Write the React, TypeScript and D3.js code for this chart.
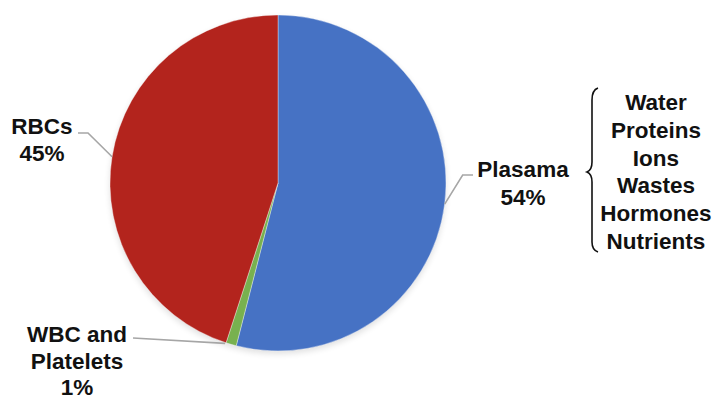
import React from "react";
import * as d3 from "d3";

// Blood composition shares
const categories = ["Plasama", "WBC and Platelets", "RBCs"];
const values = [54, 1, 45];
const colors = ["#4672C4", "#78B14F", "#B3241D"];
const plasmaParts = ["Water", "Proteins", "Ions", "Wastes", "Hormones", "Nutrients"];

const W = 717;
const H = 397;
const cx = 278;
const cy = 183;
const R = 168;
const FONT = "'Liberation Sans', Arial, Helvetica, sans-serif";

export default function App() {
  const pie = d3.pie<number>().sort(null).value((d) => d)(values);
  const arc = d3.arc<d3.PieArcDatum<number>>().innerRadius(0).outerRadius(R);
  const edge = (a: d3.PieArcDatum<number>) => {
    const m = (a.startAngle + a.endAngle) / 2;
    return [cx + R * Math.sin(m), cy - R * Math.cos(m)];
  };

  const [pX, pY] = edge(pie[0]);
  const [wX, wY] = edge(pie[1]);
  const [rX, rY] = edge(pie[2]);

  const label = (lines: string[], x: number, y0: number, step: number, size: number) =>
    lines.map((t, i) => (
      <text
        key={t}
        x={x}
        y={y0 + i * step}
        textAnchor="middle"
        fontFamily={FONT}
        fontWeight="bold"
        fontSize={size}
        fill="#111"
      >
        {t}
      </text>
    ));

  return (
    <svg width={W} height={H} style={{ position: "absolute", left: 0, top: 0 }}>
      <defs>
        <filter id="shadow" x="-10%" y="-10%" width="120%" height="120%">
          <feGaussianBlur stdDeviation="3" />
        </filter>
      </defs>
      <rect width={W} height={H} fill="#fff" />
      <circle cx={cx} cy={cy + 3} r={R} fill="#000" opacity={0.12} filter="url(#shadow)" />
      <g transform={`translate(${cx},${cy})`}>
        {pie.map((a, i) => (
          <path key={categories[i]} d={arc(a) || ""} fill={colors[i]} stroke="#fff" strokeWidth={0.6} strokeOpacity={0.6} />
        ))}
      </g>

      {/* leader lines */}
      <g fill="none" stroke="#A6A6A6" strokeWidth={1.6}>
        <polyline points={`${pX},${pY} ${pX + 18},${175} ${473},${175}`} />
        <polyline points={`${rX},${rY} ${88},${133} ${78},${133}`} />
        <polyline points={`${wX - 6},${wY - 1} ${133},${338}`} />
      </g>

      {label(["Plasama", "54%"], 523, 177, 28, 22.5)}
      {label(["RBCs", "45%"], 42, 134, 27, 22.5)}
      {label(["WBC and", "Platelets", "1%"], 77, 342, 26.5, 22.5)}

      {/* brace grouping the plasma constituents */}
      <path
        d="M598,88 Q592,90 592,100 L592,162 Q592,170 587,172 Q592,174 592,182 L592,242 Q592,250 598,252"
        fill="none"
        stroke="#111"
        strokeWidth={1.6}
      />
      {label(plasmaParts, 656, 110, 27.8, 22.5)}
    </svg>
  );
}
